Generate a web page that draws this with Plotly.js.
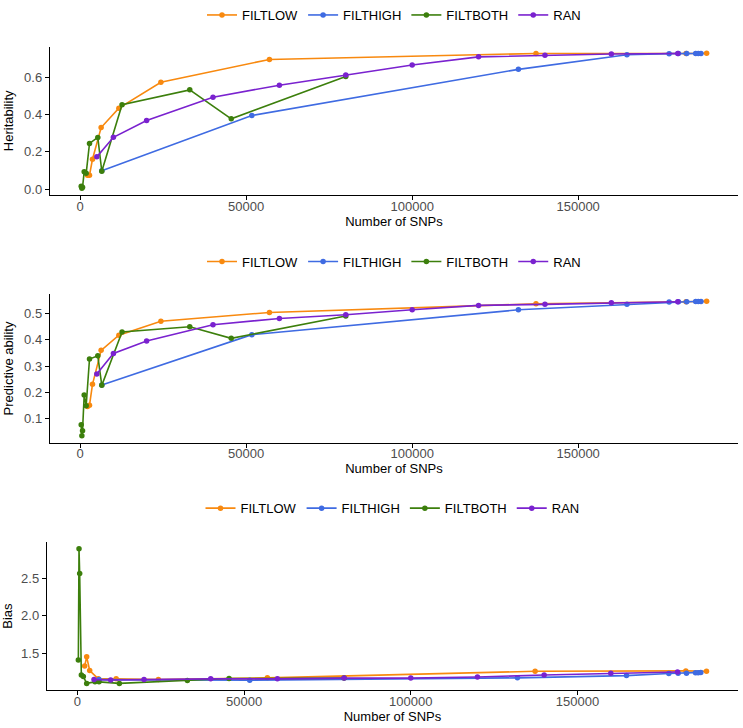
<!DOCTYPE html>
<html>
<head>
<meta charset="utf-8">
<script src="https://cdn.plot.ly/plotly-3.0.1.min.js"></script>
<style>
  html, body { margin: 0; padding: 0; background: #ffffff; }
  #plot { width: 743px; height: 728px; }
</style>
</head>
<body>
<div id="plot"></div>
<script>
const SERIES = ["FILTLOW", "FILTHIGH", "FILTBOTH", "RAN"];
const COLORS = ["#F8890F", "#3F6BE2", "#3C7F0C", "#7A22CF"];

// FILTLOW
const lowSnps = [2200, 2800, 3700, 6300, 11650, 24300, 57000, 137300, 182500, 188700];
const lowHerit = [0.075, 0.075, 0.16, 0.33, 0.434, 0.573, 0.695, 0.727, 0.727, 0.728];
const lowPred = [0.145, 0.15, 0.23, 0.36, 0.418, 0.471, 0.505, 0.538, 0.546, 0.548];
const lowBias = [1.34, 1.46, 1.28, 1.17, 1.17, 1.16, 1.183, 1.27, 1.275, 1.27];

// FILTHIGH
const highSnps = [6500, 51700, 132000, 164700, 177400, 180200, 182700, 185400, 186200, 187000];
const highHerit = [0.098, 0.395, 0.642, 0.72, 0.726, 0.727, 0.727, 0.727, 0.727, 0.727];
const highPred = [0.227, 0.42, 0.515, 0.536, 0.545, 0.546, 0.546, 0.547, 0.547, 0.547];
const highBias = [1.16, 1.152, 1.183, 1.213, 1.24, 1.243, 1.245, 1.25, 1.252, 1.255];

// FILTBOTH
const bothSnps = [300, 500, 700, 1200, 1800, 2800, 5300, 6500, 12600, 33000, 45500, 80000];
const bothHerit = [0.015, 0.005, 0.01, 0.093, 0.085, 0.245, 0.277, 0.096, 0.452, 0.532, 0.377, 0.603];
const bothPred = [0.075, 0.033, 0.052, 0.189, 0.148, 0.327, 0.339, 0.226, 0.43, 0.45, 0.406, 0.491];
const bothBias = [1.42, 2.886, 2.56, 1.22, 1.2, 1.11, 1.13, 1.13, 1.11, 1.148, 1.174, 1.18];

// RAN
const ranSnps = [5000, 10000, 20000, 40000, 60000, 80000, 100000, 120000, 140000, 160000, 180000];
const ranHerit = [0.173, 0.278, 0.368, 0.493, 0.557, 0.612, 0.665, 0.709, 0.718, 0.724, 0.727];
const ranPred = [0.269, 0.348, 0.396, 0.458, 0.482, 0.496, 0.515, 0.532, 0.536, 0.542, 0.546];
const ranBias = [1.16, 1.155, 1.16, 1.17, 1.17, 1.18, 1.18, 1.195, 1.22, 1.245, 1.26];

const xTicks = [0, 50000, 100000, 150000];
const heritTicks = [0, 0.2, 0.4, 0.6];
const predTicks = [0.1, 0.2, 0.3, 0.4, 0.5];
const biasTicks = [1.5, 2.0, 2.5];

const PANELS = [
  { title: "Heritability", vals: [lowHerit, highHerit, bothHerit, ranHerit], ticks: heritTicks },
  { title: "Predictive ability", vals: [lowPred, highPred, bothPred, ranPred], ticks: predTicks },
  { title: "Bias", vals: [lowBias, highBias, bothBias, ranBias], ticks: biasTicks },
];
const SNPS = [lowSnps, highSnps, bothSnps, ranSnps];

const W = 743, H = 728;
// plot boxes in pixels: left, right, top, bottom, legend centre y
const BOXES = [
  { l: 50, r: 738, t: 43, b: 192, leg: 11 },
  { l: 50, r: 738, t: 292, b: 441, leg: 259 },
  { l: 47, r: 738, t: 541, b: 690, leg: 507 },
];
const YRANGES = [[-0.031, 0.763], [0.007, 0.574], [1.02, 2.975]];
const XRANGE = [-9100, 198150];
const FONT = "Liberation Sans, Arial, sans-serif";

const traces = [];
const layout = {
  width: W,
  height: H,
  paper_bgcolor: "#ffffff",
  plot_bgcolor: "#ffffff",
  margin: { l: 0, r: 0, t: 0, b: 0 },
  font: { family: FONT, size: 13, color: "#000000" },
  showlegend: true,
};

PANELS.forEach((p, i) => {
  const n = i === 0 ? "" : String(i + 1);
  const box = BOXES[i];
  const legName = "legend" + n;

  SNPS.forEach((xs, k) => {
    traces.push({
      type: "scatter",
      mode: "lines+markers",
      name: SERIES[k],
      x: xs,
      y: p.vals[k],
      xaxis: "x" + n,
      yaxis: "y" + n,
      legend: legName,
      line: { color: COLORS[k], width: 1.6 },
      marker: { color: COLORS[k], size: 5.5 },
    });
  });

  layout["xaxis" + n] = {
    domain: [box.l / W, box.r / W],
    anchor: "y" + n,
    range: XRANGE,
    tickvals: xTicks,
    ticktext: xTicks.map(String),
    showline: true,
    linecolor: "#000000",
    linewidth: 1.2,
    ticks: "outside",
    ticklen: 4,
    tickcolor: "#000000",
    tickwidth: 1,
    ticklabelstandoff: -5,
    tickfont: { family: FONT, size: 13, color: "#4d4d4d" },
    showgrid: false,
    zeroline: false,
    title: { text: "Number of SNPs", font: { family: FONT, size: 13, color: "#000000" }, standoff: 2 },
  };

  layout["yaxis" + n] = {
    domain: [1 - box.b / H, 1 - box.t / H],
    anchor: "x" + n,
    range: YRANGES[i],
    tickvals: p.ticks,
    ticktext: p.ticks.map((v) => v.toFixed(1)),
    showline: true,
    linecolor: "#000000",
    linewidth: 1.2,
    ticks: "outside",
    ticklen: 4,
    tickcolor: "#000000",
    tickwidth: 1,
    tickfont: { family: FONT, size: 13, color: "#4d4d4d" },
    showgrid: false,
    zeroline: false,
    title: { text: p.title, font: { family: FONT, size: 13, color: "#000000" }, standoff: 7 },
  };

  layout[legName] = {
    orientation: "h",
    x: ((box.l + box.r) / 2) / W,
    xanchor: "center",
    y: 1 - box.leg / H,
    yanchor: "middle",
    font: { family: FONT, size: 13, color: "#000000" },
    bgcolor: "rgba(0,0,0,0)",
    itemwidth: 30,
    tracegroupgap: 0,
  };
});

Plotly.newPlot("plot", traces, layout, { displayModeBar: false, staticPlot: true });
</script>
</body>
</html>
